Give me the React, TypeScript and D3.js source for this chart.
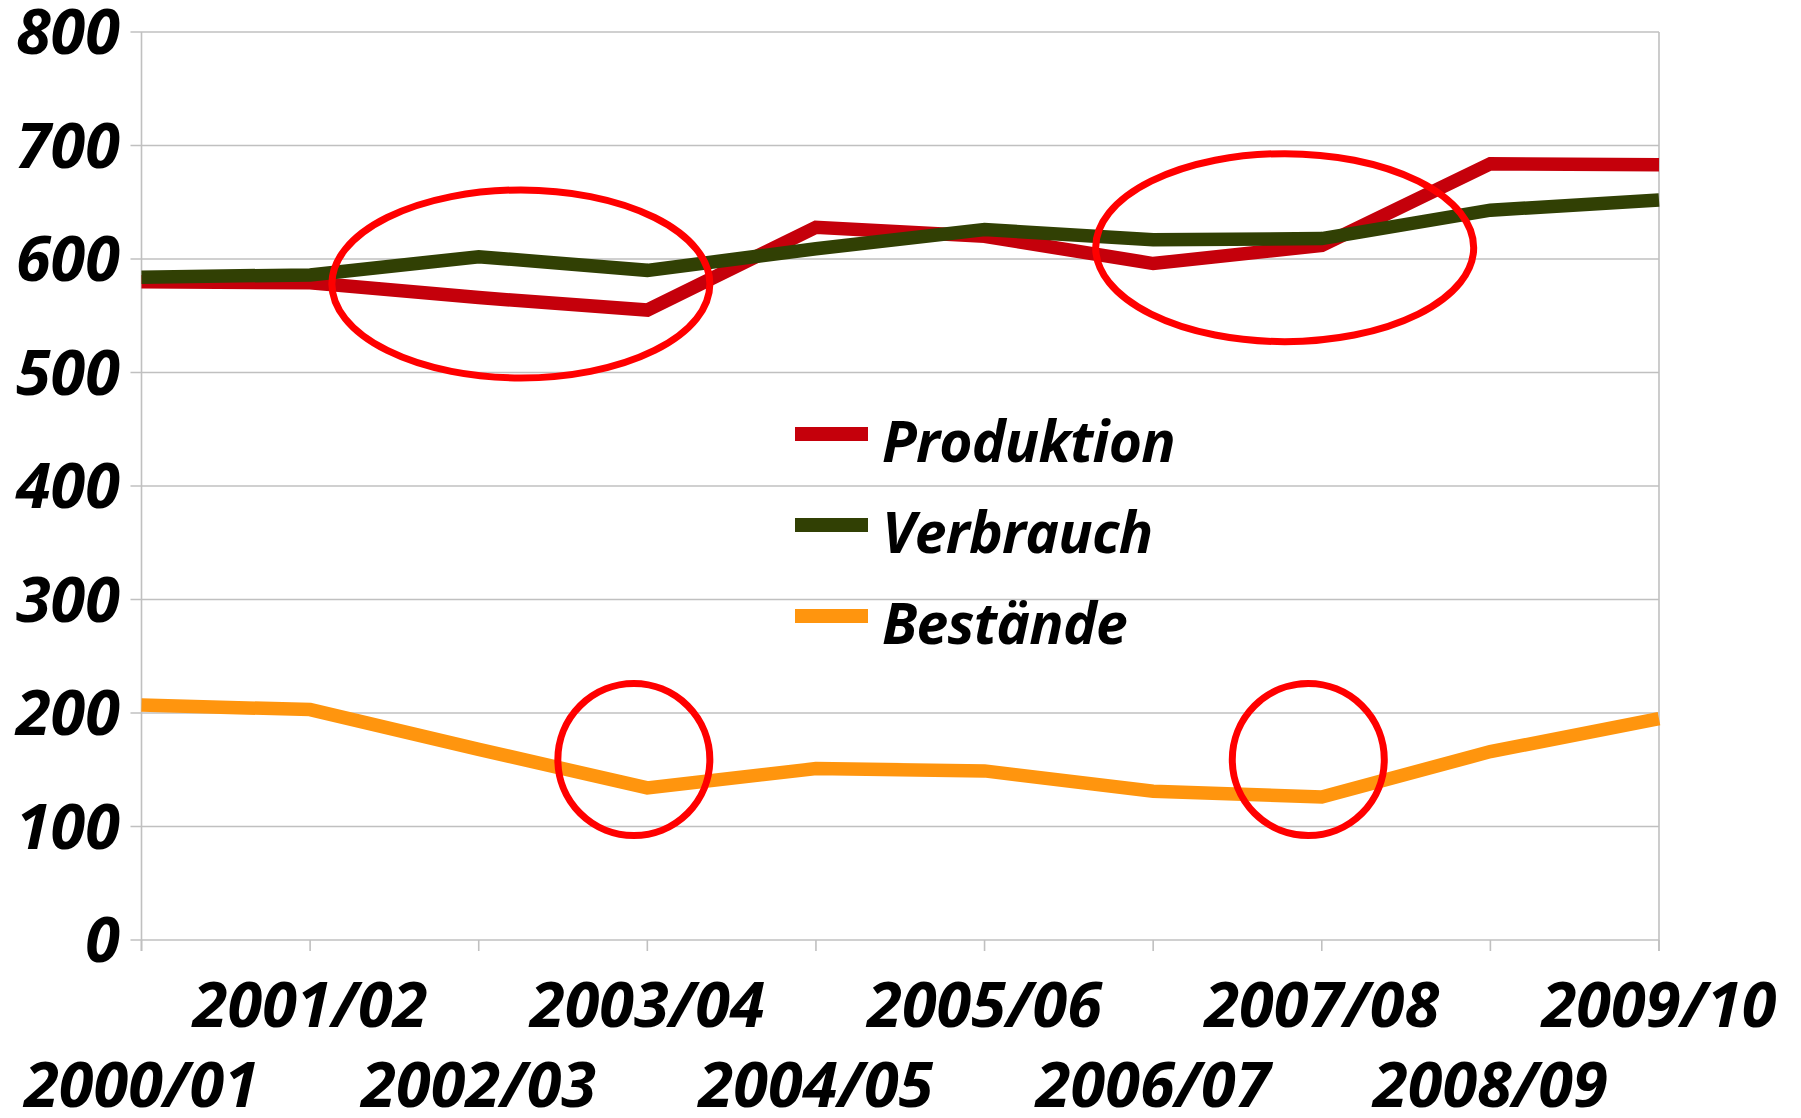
import React from 'react';
import * as d3 from 'd3';

const categories = ['2000/01', '2001/02', '2002/03', '2003/04', '2004/05', '2005/06', '2006/07', '2007/08', '2008/09', '2009/10'];
const produktion = [580, 579, 566, 555, 628, 620, 596, 612, 684, 683];
const verbrauch = [584, 586, 602, 590, 609, 626, 617, 618, 643, 652];
const bestaende = [207, 203, 168, 134, 151, 149, 131, 126, 166, 195];
const yTicks = [0, 100, 200, 300, 400, 500, 600, 700, 800];

const series = [
  { name: 'Produktion', values: produktion, color: '#c5000b' },
  { name: 'Verbrauch', values: verbrauch, color: '#314004' },
  { name: 'Bestände', values: bestaende, color: '#ff950e' },
];

// highlight marks: centre given as category index + value, radii in px
const highlights = [
  { at: 2.25, value: 578, rx: 189, ry: 94 },
  { at: 6.78, value: 610, rx: 189, ry: 94 },
  { at: 2.92, value: 159, rx: 76, ry: 76 },
  { at: 6.92, value: 159, rx: 76, ry: 76 },
];

const W = 1801;
const H = 1118;
const margin = { top: 32, right: 142, bottom: 178, left: 141.5 };
const font = '"Open Sans", "DejaVu Sans", sans-serif';

export default function App() {
  const x = d3.scalePoint<string>()
    .domain(categories)
    .range([margin.left, W - margin.right]);
  const y = d3.scaleLinear()
    .domain([0, 800])
    .range([H - margin.bottom, margin.top]);
  const xi = d3.scaleLinear()
    .domain([0, categories.length - 1])
    .range([margin.left, W - margin.right]);

  const line = d3.line<number>()
    .x((_, i) => x(categories[i]) as number)
    .y(d => y(d));

  const x0 = margin.left;
  const x1 = W - margin.right;
  const yb = y(0);
  const grid = '#c0c0c0';

  return (
    <svg width={W} height={H} style={{ position: 'absolute', left: 0, top: 0, background: '#fff' }}>
      {/* gridlines + y ticks */}
      {yTicks.map(t => (
        <line key={t} x1={x0 - 11} x2={x1} y1={y(t)} y2={y(t)} stroke={grid} strokeWidth={1.6} />
      ))}
      <line x1={x0} x2={x0} y1={y(800)} y2={yb + 11} stroke={grid} strokeWidth={1.6} />
      <line x1={x1} x2={x1} y1={y(800)} y2={yb + 11} stroke={grid} strokeWidth={1.6} />
      {categories.map(c => (
        <line key={c} x1={x(c)} x2={x(c)} y1={yb} y2={yb + 11} stroke={grid} strokeWidth={1.6} />
      ))}

      {/* y labels */}
      {yTicks.map(t => (
        <text key={t} x={120} y={y(t) + 22} textAnchor="end" fontFamily={font} fontWeight="bold"
          fontStyle="italic" fontSize={63} fill="#000">{t}</text>
      ))}

      {/* x labels, staggered */}
      {categories.map((c, i) => (
        <text key={c} x={x(c)} y={i % 2 === 1 ? 1027 : 1107} textAnchor="middle" fontFamily={font}
          fontWeight="bold" fontStyle="italic" fontSize={63} fill="#000">{c}</text>
      ))}

      {/* series */}
      {series.map(s => (
        <path key={s.name} d={line(s.values) || ''} fill="none" stroke={s.color} strokeWidth={13.5} />
      ))}

      {/* legend */}
      {series.map((s, i) => (
        <g key={s.name} transform={`translate(795, ${434 + i * 91})`}>
          <line x1={0} x2={73} y1={0} y2={0} stroke={s.color} strokeWidth={14} />
          <text x={87} y={28} fontFamily={font} fontWeight="bold" fontStyle="italic" fontSize={57}
            letterSpacing={-0.8} fill="#000">{s.name}</text>
        </g>
      ))}

      {/* red highlight marks */}
      {highlights.map((h, i) => (
        <ellipse key={i} cx={xi(h.at)} cy={y(h.value)} rx={h.rx} ry={h.ry} fill="none" stroke="#ff0000" strokeWidth={7} />
      ))}
    </svg>
  );
}
